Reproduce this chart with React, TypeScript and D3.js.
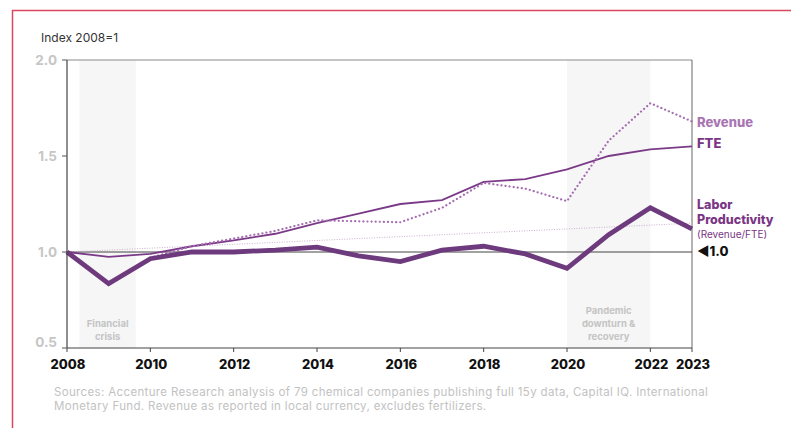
import React from "react";
import * as d3 from "d3";

const years = [2008, 2009, 2010, 2011, 2012, 2013, 2014, 2015, 2016, 2017, 2018, 2019, 2020, 2021, 2022, 2023];
const revenue = [1.0, 0.83, 0.97, 1.03, 1.07, 1.11, 1.165, 1.16, 1.155, 1.23, 1.36, 1.33, 1.265, 1.58, 1.775, 1.68];
const fte = [1.0, 0.975, 0.99, 1.03, 1.06, 1.095, 1.15, 1.2, 1.25, 1.27, 1.365, 1.38, 1.43, 1.5, 1.535, 1.55];
const productivity = [1.0, 0.835, 0.965, 1.0, 1.0, 1.01, 1.025, 0.98, 0.95, 1.01, 1.03, 0.99, 0.915, 1.09, 1.23, 1.12];
const trendYears = [2008, 2023];
const trendValues = [1.0, 1.15];
const xTicks = [2008, 2010, 2012, 2014, 2016, 2018, 2020, 2022, 2023];
const yTicks = [0.5, 1.0, 1.5, 2.0];
const shades = [
  { from: 2008.3, to: 2009.65, lines: ["Financial", "crisis"] },
  { from: 2020, to: 2022, lines: ["Pandemic", "downturn &", "recovery"] },
];
const sources = [
  "Sources: Accenture Research analysis of 79 chemical companies publishing full 15y data, Capital IQ. International",
  "Monetary Fund. Revenue as reported in local currency, excludes fertilizers.",
];

const FONT = "Inter, 'Noto Sans', sans-serif";

export default function App() {
  const x = d3.scaleLinear().domain([2008, 2023]).range([67, 692]);
  const y = d3.scaleLinear().domain([0.5, 2.0]).range([348, 60]);
  const line = (vals: number[], xs: number[] = years) =>
    d3.line<number>().x((_, i) => x(xs[i])).y((d) => y(d))(vals) || "";

  const shadeTop = y(2.0);
  const shadeBottom = y(0.5);

  return (
    <svg width={791} height={428} style={{ position: "absolute", left: 0, top: 0, background: "#fff" }} fontFamily={FONT}>
      <rect x={12.5} y={10.5} width={800} height={440} fill="none" stroke="#d9475e" strokeWidth={1.5} />
      <text x={41} y={42} fontSize={12} fill="#333">Index 2008=1</text>

      {shades.map((s, i) => (
        <g key={i}>
          <rect x={x(s.from)} y={shadeTop} width={x(s.to) - x(s.from)} height={shadeBottom - shadeTop} fill="#f6f6f6" />
          {s.lines.map((t, j) => (
            <text
              key={j}
              x={(x(s.from) + x(s.to)) / 2}
              y={shadeBottom - 8 - (s.lines.length - 1 - j) * 13}
              fontSize={9.5}
              fontWeight={700}
              fill="#c4c4c4"
              textAnchor="middle"
            >
              {t}
            </text>
          ))}
        </g>
      ))}

      {/* frame */}
      <line x1={67} x2={692} y1={y(2.0)} y2={y(2.0)} stroke="#8a8a8a" strokeWidth={1} />
      <line x1={692} x2={692} y1={y(2.0)} y2={y(0.5)} stroke="#666" strokeWidth={1} />
      <line x1={67} x2={692} y1={y(1.0)} y2={y(1.0)} stroke="#444" strokeWidth={1} />

      {/* trend */}
      <path d={line(trendValues, trendYears)} fill="none" stroke="#c9b2cc" strokeWidth={1} strokeDasharray="1 1.5" />

      {/* series */}
      <path d={line(fte)} fill="none" stroke="#7b3a88" strokeWidth={1.8} />
      <path d={line(revenue)} fill="none" stroke="#a56cb0" strokeWidth={2.2} strokeDasharray="0.1 4" strokeLinecap="round" />
      <path d={line(productivity)} fill="none" stroke="#6e3a7e" strokeWidth={4.8} strokeLinejoin="miter" />

      {/* axes */}
      <line x1={67} x2={67} y1={y(2.0)} y2={y(0.5)} stroke="#444" strokeWidth={1.2} />
      <line x1={67} x2={692} y1={y(0.5)} y2={y(0.5)} stroke="#444" strokeWidth={1.2} />
      {yTicks.map((t) => (
        <g key={t}>
          <line x1={62} x2={67} y1={y(t)} y2={y(t)} stroke="#555" strokeWidth={1} />
          <text x={57} y={y(t) + (t === 0.5 ? -1.5 : 4.5)} fontSize={13.5} fontWeight={700} fill="#c6c6c6" textAnchor="end">
            {t.toFixed(1)}
          </text>
        </g>
      ))}
      {xTicks.map((t) => (
        <g key={t}>
          <line x1={x(t)} x2={x(t)} y1={y(0.5)} y2={y(0.5) + 4} stroke="#444" strokeWidth={1} />
          <text x={x(t) + 1} y={369} fontSize={13} fontWeight={800} fill="#111" textAnchor="middle">
            {t}
          </text>
        </g>
      ))}

      {/* labels */}
      <text x={697} y={126.5} fontSize={13} fontWeight={800} fill="#a875b3">Revenue</text>
      <text x={697} y={147.5} fontSize={13} fontWeight={800} fill="#7a3585">FTE</text>
      <text x={697} y={209} fontSize={12.5} fontWeight={800} fill="#7a3585">Labor</text>
      <text x={697} y={223.5} fontSize={12.5} fontWeight={800} fill="#7a3585">Productivity</text>
      <text x={697} y={237.5} fontSize={10} fill="#7a3585">(Revenue/FTE)</text>
      <text x={697} y={256} fontSize={13} fontWeight={800} fill="#111">◀1.0</text>

      {sources.map((s, i) => (
        <text key={i} x={54} y={396 + i * 14} fontSize={11.5} letterSpacing={0.35} fill="#c2c2c2">{s}</text>
      ))}
    </svg>
  );
}
